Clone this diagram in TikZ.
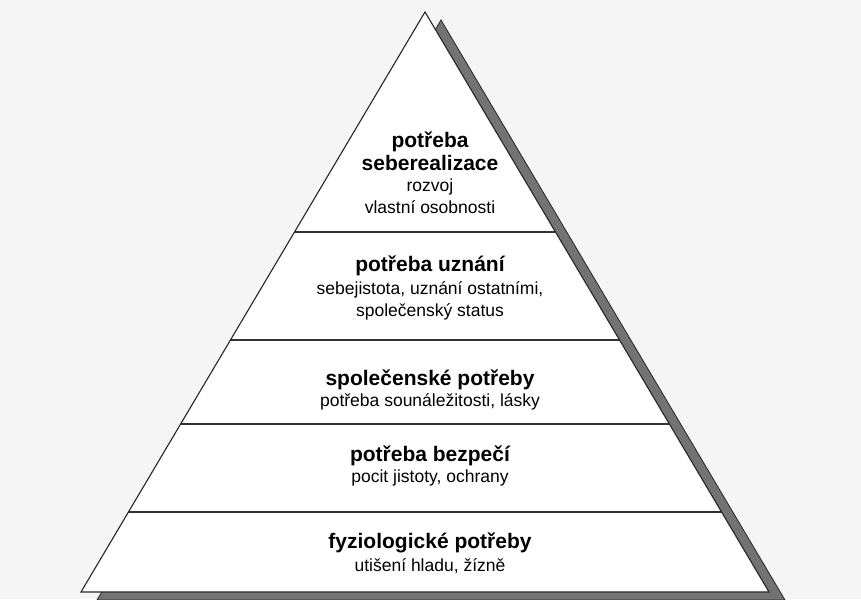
\documentclass[tikz,border=0pt]{standalone}
\usepackage{fontspec}
\setmainfont{Liberation Sans}
\usetikzlibrary{calc}

\begin{document}
\begin{tikzpicture}[x=1pt, y=-1pt,
  edge/.style = {draw=black!85, line width=1.1pt, line join=miter},
  band/.style = {black!80, line width=1.4pt},
  shade/.style = {fill=black!55, draw=black!85, line width=0.8pt},
  title/.style = {font=\fontsize{21}{23}\selectfont\bfseries, align=center, inner sep=0pt},
  sub/.style = {font=\fontsize{17.5}{22.5}\selectfont, align=center, inner sep=0pt}]
\useasboundingbox[fill=black!4] (0,0) rectangle (861,599);
\pgfmathsetmacro{\midx}{430} %text centre
\coordinate (apex) at (425,12);
\coordinate (bl) at (81,592);
\coordinate (br) at (769,592);

% shadow behind the pyramid
\path[shade] ($(apex)+(16,8)$) -- ($(br)+(16,8)$) -- ($(bl)+(16,8)$) -- cycle;
\fill[white] (apex) -- (br) -- (bl) -- cycle;

% levels
\foreach \t in {0.3793, 0.5655, 0.7103, 0.8621}
  \draw[band] ($(apex)!\t!(bl)$) -- ($(apex)!\t!(br)$);
\draw[edge] (apex) -- (br) -- (bl) -- cycle;

\node[title] (self) at (\midx,151) {potřeba\\seberealizace};
\node[sub] (selfsub) at (\midx,196) {rozvoj\\vlastní osobnosti};

\node[title] (esteem) at (\midx,266) {potřeba uznání};
\node[sub] (esteemsub) at (\midx,301) {sebejistota, uznání ostatními,\\společenský status};

\node[title] (social) at (\midx,380) {společenské potřeby};
\node[sub] (socialsub) at (\midx,402) {potřeba sounáležitosti, lásky};

\node[title] (safety) at (\midx,456) {potřeba bezpečí};
\node[sub] (safetysub) at (\midx,478) {pocit jistoty, ochrany};

\node[title] (body) at (\midx,543) {fyziologické potřeby};
\node[sub] (bodysub) at (\midx,566) {utišení hladu, žízně};
%\draw[red] (0,232) -- (861,232);
\end{tikzpicture}
\end{document}
